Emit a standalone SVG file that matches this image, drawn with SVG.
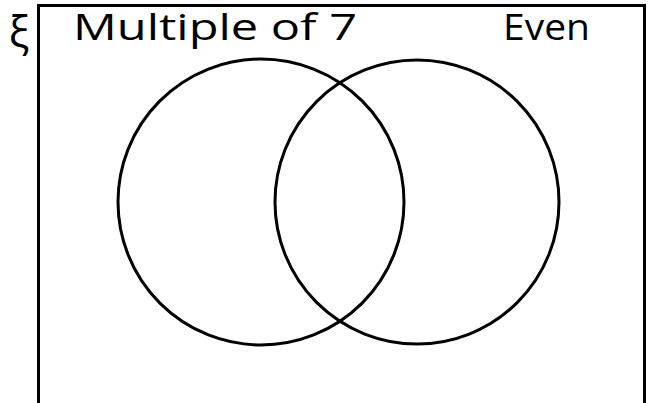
<svg xmlns="http://www.w3.org/2000/svg" width="654" height="403" viewBox="0 0 654 403">
<style>
.line{fill:none;stroke:#000;stroke-width:3}
.lbl{font-family:"Open Sans","Liberation Sans",sans-serif;font-size:36px;fill:#000}
</style>
<rect width="654" height="403" fill="#fff"/>
<g id="universe">
<path class="line" d="M38.5,406 V5.5 H644.5 V406"/>
<text class="lbl" x="19" y="47" text-anchor="middle" style="font-size:43px">ξ</text>
</g>
<g id="multiple-of-7">
<circle class="line" cx="261" cy="202" r="143"/>
<text class="lbl" x="73" y="39.5" textLength="284" lengthAdjust="spacingAndGlyphs">Multiple of 7</text>
</g>
<g id="even">
<circle class="line" cx="417" cy="202" r="142"/>
<text class="lbl" x="503" y="39.5" textLength="87" lengthAdjust="spacingAndGlyphs">Even</text>
</g>
<g id="connectors"/>
</svg>
